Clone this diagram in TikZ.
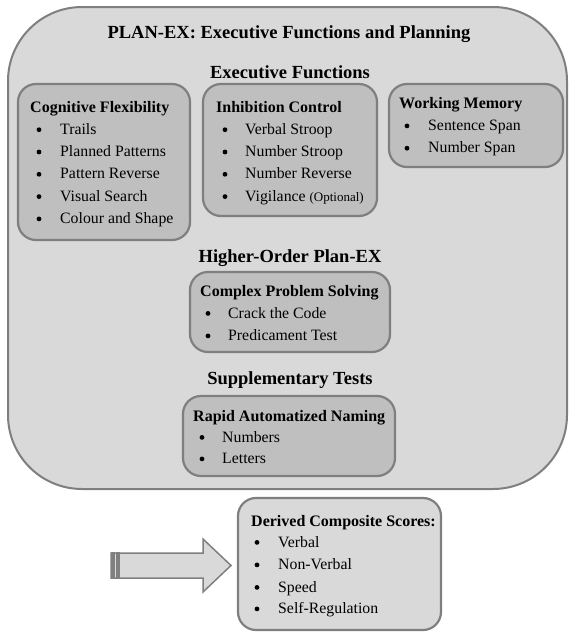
\documentclass[tikz,border=0pt]{standalone}
\usepackage{fontspec}
\setmainfont{Liberation Serif}
\definecolor{outerfill}{HTML}{D9D9D9}
\definecolor{innerfill}{HTML}{BFBFBF}
\definecolor{edgegray}{HTML}{7F7F7F}
\definecolor{darkstrip}{HTML}{808080}
\begin{document}
\begin{tikzpicture}[x=1pt,y=-1pt,
  outerbox/.style={draw=edgegray, fill=outerfill, line width=2pt, rounded corners=74pt},
  innerbox/.style={draw=edgegray, fill=innerfill, line width=2.2pt, rounded corners=18pt},
  lightbox/.style={draw=edgegray, fill=outerfill, line width=2.2pt, rounded corners=18pt},
  bigtitle/.style={font=\bfseries\fontsize{18.5}{22}\selectfont, anchor=base, inner sep=0pt},
  sectitle/.style={font=\bfseries\fontsize{18.5}{22}\selectfont, anchor=base, inner sep=0pt},
  boxtitle/.style={font=\bfseries\fontsize{16}{19}\selectfont, anchor=base west, inner sep=0pt},
  itemtext/.style={font=\fontsize{15.8}{19}\selectfont, anchor=base west, inner sep=0pt},
  bul/.style={circle, fill=black, inner sep=0pt, minimum size=4.8pt, yshift=4.6pt},
  arrowshape/.style={draw=edgegray, fill=outerfill, line width=1.5pt, line join=miter}
]
\useasboundingbox (0,0) rectangle (569,633);

% outer container
\draw[outerbox] (8,7) rectangle (567,489);
\node[bigtitle] (title) at (289,38) {PLAN-EX: Executive Functions and Planning};
\node[sectitle] (ef) at (290,78) {Executive Functions};

% Cognitive Flexibility
\draw[innerbox] (18,84) rectangle (190,240);
\node[boxtitle] (cft) at (30,112.5) {Cognitive Flexibility};
\foreach \t/\y [count=\i] in {Trails/134.3, Planned Patterns/156.6, Pattern Reverse/178.9, Visual Search/201.2, Colour and Shape/223.5}{
  \node[bul] (cfb\i) at (39,\y) {};
  \node[itemtext] (cfi\i) at (60,\y) {\t};
}

% Inhibition Control
\draw[innerbox] (203,84) rectangle (377,216);
\node[boxtitle] (ict) at (216,112.5) {Inhibition Control};
\foreach \t/\y [count=\i] in {Verbal Stroop/134.3, Number Stroop/156.6, Number Reverse/178.9}{
  \node[bul] (icb\i) at (225,\y) {};
  \node[itemtext] (ici\i) at (245,\y) {\t};
}
\node[bul] (icb4) at (225,201.2) {};
\node[itemtext] (ici4) at (245,201.2) {Vigilance {\fontsize{13}{15}\selectfont (Optional)}};

% Working Memory
\draw[innerbox] (389,84) rectangle (563,167);
\node[boxtitle] (wmt) at (399,108.5) {Working Memory};
\foreach \t/\y [count=\i] in {Sentence Span/130.5, Number Span/152.8}{
  \node[bul] (wmb\i) at (407,\y) {};
  \node[itemtext] (wmi\i) at (428,\y) {\t};
}

% Higher-Order
\node[sectitle] (ho) at (290,262) {Higher-Order Plan-EX};
\draw[innerbox] (190,272) rectangle (390,352);
\node[boxtitle] (cpt) at (200,296) {Complex Problem Solving};
\foreach \t/\y [count=\i] in {Crack the Code/318, Predicament Test/340.5}{
  \node[bul] (cpb\i) at (208,\y) {};
  \node[itemtext] (cpi\i) at (228,\y) {\t};
}

% Supplementary
\node[sectitle] (st) at (290,384) {Supplementary Tests};
\draw[innerbox] (183,396) rectangle (395,476);
\node[boxtitle] (rant) at (193,421) {Rapid Automatized Naming};
\foreach \t/\y [count=\i] in {Numbers/442, Letters/463.5}{
  \node[bul] (ranb\i) at (202,\y) {};
  \node[itemtext] (rani\i) at (222,\y) {\t};
}

% Block arrow
\draw[arrowshape] (111,553) -- (203,553) -- (203,539) -- (231,565.5) -- (203,592) -- (203,578) -- (111,578) -- cycle;
\fill[darkstrip] (111,552.3) rectangle (114.5,578.7);
\fill[darkstrip] (116,552.3) rectangle (120,578.7);

% Derived composite scores
\draw[lightbox] (238,498) rectangle (441,630);
\node[boxtitle] (dct) at (251,526) {Derived Composite Scores:};
\foreach \t/\y [count=\i] in {Verbal/547, Non-Verbal/569.5, Speed/592, Self-Regulation/613.5}{
  \node[bul] (dcb\i) at (257,\y) {};
  \node[itemtext] (dci\i) at (278,\y) {\t};
}
\end{tikzpicture}
\end{document}
